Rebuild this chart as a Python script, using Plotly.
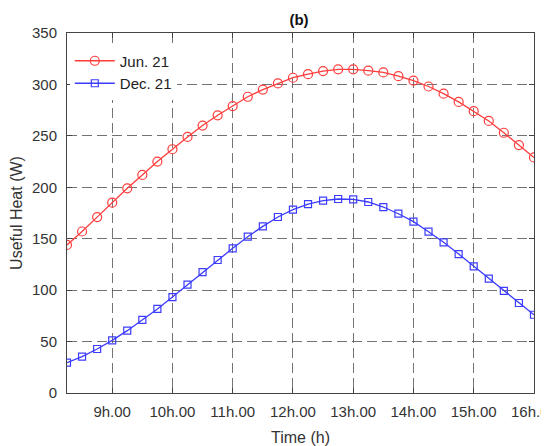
import plotly.graph_objects as go

time_h = [8.25 + 0.25 * i for i in range(32)]
jun21 = [144, 157, 171, 185, 199, 212, 225, 237, 249, 260, 270, 279, 288, 295, 301, 306.5,
         310, 313, 314.7, 314.7, 313.4, 311.7, 308, 303.7, 298, 291, 283, 274, 264.5, 253, 241, 229]
dec21 = [29.5, 35.3, 42.8, 51.2, 60.6, 71, 81.7, 93.3, 105.3, 117.6, 129.3, 140.7, 152, 162, 171.1, 178.2,
         183.7, 187, 188.6, 188.3, 185.7, 180.8, 174.3, 166.6, 156.8, 146.5, 135.1, 123.2, 111.2, 99.2, 87.5, 76.1]
xtick_vals = [9, 10, 11, 12, 13, 14, 15, 16]
xtick_text = ["9h.00", "10h.00", "11h.00", "12h.00", "13h.00", "14h.00", "15h.00", "16h.00"]
ytick_vals = [0, 50, 100, 150, 200, 250, 300, 350]

FONT = "Liberation Sans, Arial"
# page body has an 8px margin; the figure is sized/offset to compensate
W, H = 541, 438

fig = go.Figure()
fig.add_trace(go.Scatter(x=time_h, y=jun21, mode="lines+markers", name="Jun. 21",
                         line=dict(color="#ff3c3c", width=1.3),
                         marker=dict(symbol="circle-open", size=9, color="#ff3c3c", line=dict(width=1.2))))
fig.add_trace(go.Scatter(x=time_h, y=dec21, mode="lines+markers", name="Dec. 21",
                         line=dict(color="#3c3cff", width=1.3),
                         marker=dict(symbol="square-open", size=7, color="#3c3cff", line=dict(width=1.2))))

axis_common = dict(showline=True, linecolor="#444", linewidth=1, mirror="ticks", ticks="inside",
                   ticklen=5, tickcolor="#444", showgrid=True, gridcolor="rgba(80,80,80,0.8)",
                   griddash="10px,5px", gridwidth=1, zeroline=False, automargin=False,
                   ticklabeloverflow="allow",
                   tickfont=dict(family=FONT, size=15, color="#333"))

fig.update_xaxes(range=[8.25, 16.0005], tickvals=xtick_vals, ticktext=xtick_text, ticklabelstandoff=5,
                 title=dict(text="Time (h)", font=dict(family=FONT, size=16, color="#333")),
                 **axis_common)
fig.update_yaxes(range=[0, 350], tickvals=ytick_vals, ticklabelstandoff=6,
                 title=dict(text="Useful Heat (W)", font=dict(family=FONT, size=16, color="#333")),
                 **axis_common)

fig.update_layout(
    width=W, height=H,
    margin=dict(l=59, r=15, t=25, b=53, pad=0),
    paper_bgcolor="white", plot_bgcolor="white",
    title=dict(text="<b>(b)</b>", x=291 / W, xanchor="center", y=1 - 12 / H, yanchor="middle",
               font=dict(family=FONT, size=15, color="#111")),
    legend=dict(x=0.006, y=0.968, xanchor="left", yanchor="top", bgcolor="white",
                font=dict(family=FONT, size=15, color="#222"),
                tracegroupgap=0, itemwidth=40),
    showlegend=True,
)

fig.write_html("out.html")
